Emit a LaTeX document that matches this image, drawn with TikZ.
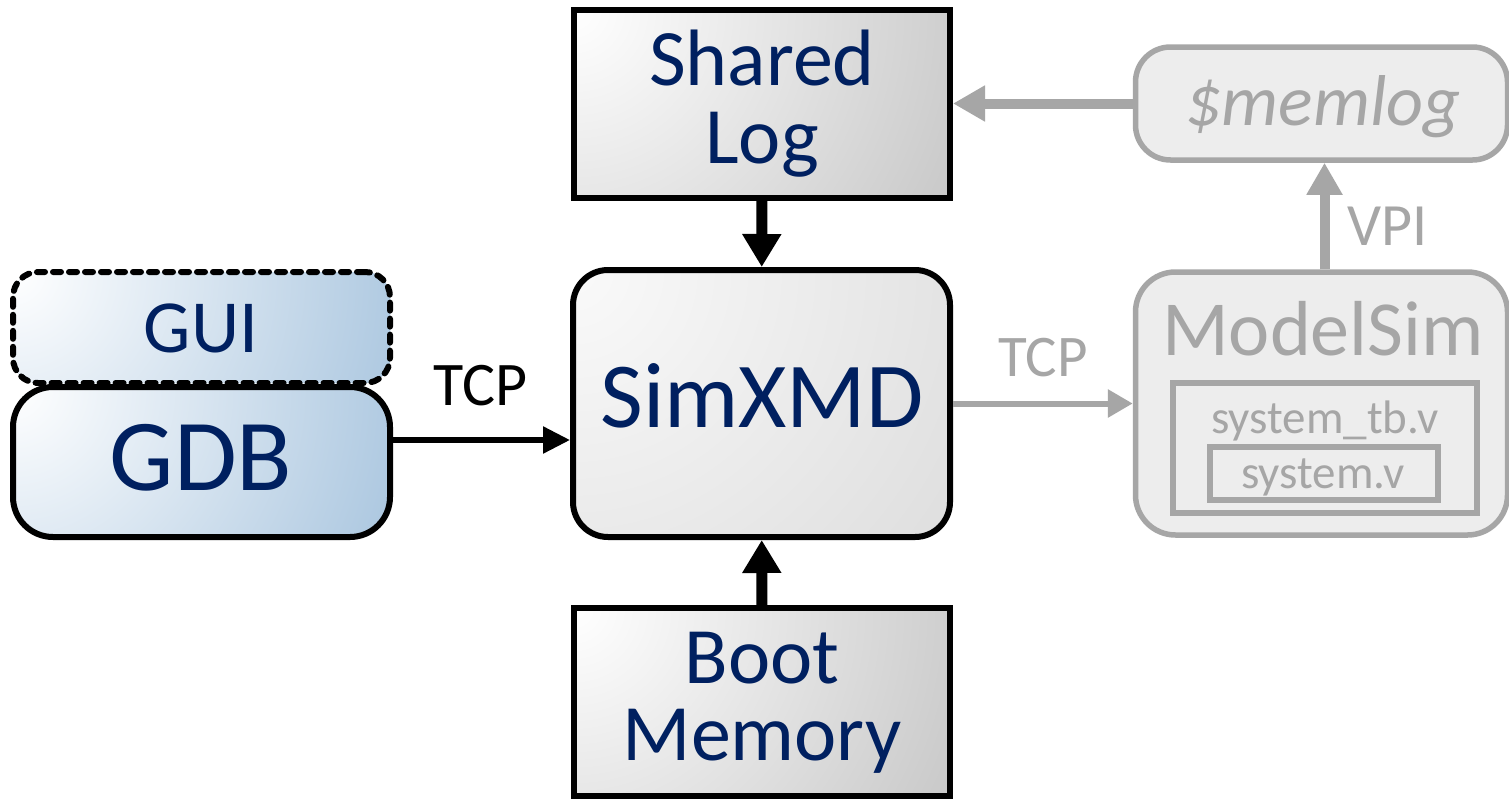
\documentclass[tikz,border=0pt]{standalone}
\usepackage{fontspec}
\setmainfont{Carlito}
\usetikzlibrary{arrows.meta}
\definecolor{navy}{RGB}{0,32,96}
\definecolor{lgray}{RGB}{166,166,166}
\definecolor{gdbblue}{RGB}{164,194,221}
\definecolor{boxgray}{RGB}{188,188,188}
\tikzset{
  cornershade/.style n args={3}{path picture={
      \shade[inner color=#1, outer color=#2]
        (path picture bounding box.north west) circle (#3);}},
  graybox/.style={draw=black, line width=6pt, rectangle, inner sep=0pt,
    fill=boxgray, cornershade={white}{boxgray}{520pt}},
  simbox/.style={draw=black, line width=6pt, rectangle, rounded corners=35pt, inner sep=0pt,
    fill=white!84!black, cornershade={white!98!black}{white!84!black}{600pt}},
  bluebox/.style={draw=black, line width=6pt, rectangle, inner sep=0pt,
    fill=gdbblue, cornershade={white}{gdbblue}{440pt}},
  ghostbox/.style={draw=lgray, line width=5.5pt, rectangle, inner sep=0pt, fill=white!93!black},
  innerbox/.style={draw=lgray, line width=5.5pt, rectangle, inner sep=0pt},
  navytext/.style={text=navy, inner sep=0pt, anchor=base, align=center},
  graytext/.style={text=lgray, inner sep=0pt, anchor=base},
  blacktext/.style={text=black, inner sep=0pt, anchor=base},
  bigarrow/.style={line width=11pt, -{Triangle[length=33pt,width=37pt]}},
  thinarrow/.style={line width=5.5pt, -{Triangle[length=27pt,width=26pt]}},
  grayarrow/.style={draw=lgray, line width=6pt, -{Triangle[length=25pt,width=27pt]}},
  graybigarrow/.style={draw=lgray, line width=10pt, -{Triangle[length=32pt,width=34pt]}},
}
\begin{document}
\begin{tikzpicture}[x=1pt,y=-1pt]
\useasboundingbox (0,0) rectangle (1509,798);
\fill[white] (0,0) rectangle (1509,798);

% boxes
\node[graybox, minimum width=376pt, minimum height=188pt] (shared) at (762,104) {};
\node[simbox, minimum width=377pt, minimum height=267pt] (sim) at (761.5,403.5) {};
\node[graybox, minimum width=376pt, minimum height=188pt] (boot) at (762,702) {};
\node[bluebox, rounded corners=25pt, dash pattern=on 8pt off 8pt, line cap=round,
      minimum width=377pt, minimum height=111pt] (gui) at (201.5,327.5) {};
\node[bluebox, rounded corners=40pt, minimum width=377pt, minimum height=150pt] (gdb) at (201.5,462) {};
\node[ghostbox, rounded corners=35pt, minimum width=372pt, minimum height=113pt] (memlog) at (1321.5,103.5) {};
\node[ghostbox, rounded corners=40pt, minimum width=372pt, minimum height=263pt] (modelsim) at (1321.5,403.5) {};
\node[innerbox, minimum width=304pt, minimum height=130pt] (tb) at (1325,448) {};
\node[innerbox, minimum width=228pt, minimum height=53pt] (sys) at (1324,473.5) {};

% texts (anchor=base is the baseline of the last line)
\node[navytext, font=\fontsize{80}{78}\selectfont] (sharedtxt) at (762,163) {Shared\\Log};
\node[navytext, font=\fontsize{93}{93}\selectfont] (simtxt) at (762,427) {SimXMD};
\node[navytext, font=\fontsize{80}{77}\selectfont] (boottxt) at (762,760) {Boot\\Memory};
\node[navytext, font=\fontsize{75}{75}\selectfont] (guitxt) at (201,352) {GUI};
\node[navytext, font=\fontsize{102}{102}\selectfont] (gdbtxt) at (201,490) {GDB};
\node[graytext, font=\fontsize{72}{72}\selectfont\itshape] (memlogtxt) at (1323,125) {\$memlog};
\node[graytext, font=\fontsize{78}{78}\selectfont] (modelsimtxt) at (1323,355) {ModelSim};
\node[graytext, font=\fontsize{47}{47}\selectfont] (tbtxt) at (1325,433) {system\_tb.v};
\node[graytext, font=\fontsize{47}{47}\selectfont] (systxt) at (1323,488) {system.v};

% connectors
\draw[bigarrow] (shared) -- (sim);
\draw[bigarrow] (boot) -- (sim);
\draw[thinarrow] ([yshift=22pt]gdb.east) -- ([yshift=22pt]gdb.east -| sim.west);
\draw[grayarrow] (sim.east) -- (modelsim.west);
\draw[graybigarrow] (memlog.west) -- (shared.east |- memlog.west);
\draw[graybigarrow] ([xshift=3pt]modelsim.north) -- ([xshift=3pt]memlog.south);

% connector labels
\node[blacktext, font=\fontsize{62}{62}\selectfont] (tcpleft) at (481,405) {TCP};
\node[graytext, font=\fontsize{59}{59}\selectfont] (tcpright) at (1043,376) {TCP};
\node[graytext, font=\fontsize{60}{60}\selectfont] (vpi) at (1388,245) {VPI};
\end{tikzpicture}
\end{document}
